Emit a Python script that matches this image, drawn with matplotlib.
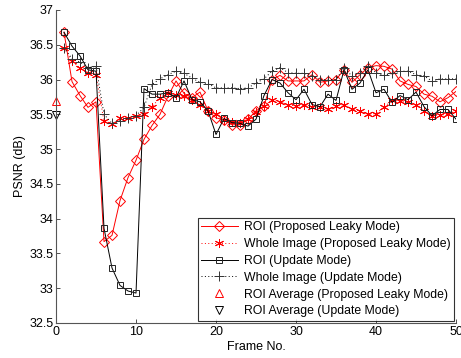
import matplotlib
matplotlib.use("Agg")
import matplotlib.pyplot as plt

plt.rcParams['font.family'] = ['Liberation Sans', 'DejaVu Sans']

frames = list(range(1, 51))

roi_leaky = [36.68, 35.97, 35.77, 35.60, 35.68, 33.67, 33.76, 34.26, 34.59, 34.84,
             35.14, 35.34, 35.50, 35.76, 35.98, 35.80, 35.74, 35.82, 35.55, 35.45,
             35.42, 35.35, 35.35, 35.43, 35.55, 35.62, 36.00, 36.06, 35.98, 35.98,
             35.98, 36.07, 35.96, 35.98, 36.00, 36.14, 35.96, 36.07, 36.17, 36.20,
             36.19, 36.15, 35.98, 35.93, 35.90, 35.79, 35.76, 35.68, 35.74, 35.83]

whole_leaky = [36.46, 36.26, 36.17, 36.10, 36.07, 35.40, 35.36, 35.44, 35.44, 35.47,
               35.50, 35.61, 35.74, 35.81, 35.78, 35.76, 35.71, 35.64, 35.55, 35.50,
               35.42, 35.39, 35.38, 35.43, 35.53, 35.62, 35.71, 35.68, 35.64, 35.62,
               35.63, 35.61, 35.60, 35.57, 35.62, 35.64, 35.57, 35.55, 35.50, 35.51,
               35.60, 35.70, 35.69, 35.67, 35.64, 35.55, 35.47, 35.49, 35.50, 35.55]

roi_update = [36.68, 36.48, 36.34, 36.14, 36.12, 33.86, 33.29, 33.04, 32.96, 32.93,
              35.87, 35.79, 35.79, 35.81, 35.74, 35.98, 35.71, 35.68, 35.55, 35.21,
              35.44, 35.38, 35.37, 35.33, 35.43, 35.77, 36.00, 35.95, 35.81, 35.71,
              35.86, 35.64, 35.61, 35.79, 35.70, 36.14, 35.86, 35.95, 36.14, 35.81,
              35.86, 35.67, 35.77, 35.71, 35.82, 35.61, 35.48, 35.57, 35.57, 35.43]

whole_update = [36.46, 36.30, 36.25, 36.17, 36.19, 35.50, 35.37, 35.41, 35.44, 35.48,
                35.60, 35.93, 36.01, 36.07, 36.12, 36.09, 36.02, 35.96, 35.94, 35.88,
                35.88, 35.88, 35.87, 35.88, 35.95, 36.01, 36.12, 36.17, 36.10, 36.09,
                36.09, 36.05, 36.00, 36.00, 36.00, 36.17, 36.05, 36.09, 36.19, 36.10,
                36.06, 36.09, 36.12, 36.12, 36.07, 36.05, 35.98, 36.01, 36.01, 36.01]

avg_frame = [0]
roi_leaky_avg = [35.69]
roi_update_avg = [35.49]

labels = ["ROI (Proposed Leaky Mode)", "Whole Image (Proposed Leaky Mode)",
          "ROI (Update Mode)", "Whole Image (Update Mode)",
          "ROI Average (Proposed Leaky Mode)", "ROI Average (Update Mode)"]

fig = plt.figure(figsize=(4.61, 3.58), dpi=100)
ax = fig.add_axes([0.1215, 0.0978, 0.8677, 0.8743])

red = '#ff0000'
dotted = (0, (1, 2.5))
asterisk = (6, 2, 0)
ax.plot(frames, roi_leaky, '-', color=red, lw=0.7, marker='D', ms=5,
        mfc='none', mec=red, mew=0.7, label=labels[0])
ax.plot(frames, whole_leaky, linestyle=dotted, color=red, lw=0.7, marker=asterisk, ms=6.5,
        mfc=red, mec=red, mew=0.7, label=labels[1])
ax.plot(frames, roi_update, '-', color='black', lw=0.7, marker='s', ms=5,
        mfc='none', mec='#222222', mew=0.7, label=labels[2])
ax.plot(frames, whole_update, linestyle=dotted, color='black', lw=0.7, marker='+', ms=6.5,
        mec='#333333', mew=0.7, label=labels[3])
ax.plot(avg_frame, roi_leaky_avg, linestyle='none', marker='^', ms=6,
        mfc='none', mec=red, mew=0.7, label=labels[4], clip_on=False)
ax.plot(avg_frame, roi_update_avg, linestyle='none', marker='v', ms=6,
        mfc='none', mec='black', mew=0.7, label=labels[5], clip_on=False)

ax.set_xlim(0, 50)
ax.set_ylim(32.5, 37)
ax.set_xticks([0, 10, 20, 30, 40, 50])
ax.set_yticks([32.5, 33, 33.5, 34, 34.5, 35, 35.5, 36, 36.5, 37])
ax.set_yticklabels(['32.5', '33', '33.5', '34', '34.5', '35', '35.5', '36', '36.5', '37'])
ax.tick_params(direction='in', labelsize=9, length=3, width=0.6, colors='#333333',
               labelcolor='black', pad=2)
for s in ['top', 'right']:
    ax.spines[s].set_visible(False)
for s in ['left', 'bottom']:
    ax.spines[s].set_color('#555555')
    ax.spines[s].set_linewidth(0.8)

ax.set_xlabel('Frame No.', fontsize=9, labelpad=2)
ax.set_ylabel('PSNR (dB)', fontsize=9, labelpad=2)

leg = ax.legend(loc='lower right', fontsize=8.8, frameon=True, fancybox=False,
                edgecolor='black', borderaxespad=0.2, handlelength=3.0,
                borderpad=0.25, labelspacing=0.4, handletextpad=0.5)
leg.get_frame().set_linewidth(0.8)

fig.savefig('out.png', dpi=100)
